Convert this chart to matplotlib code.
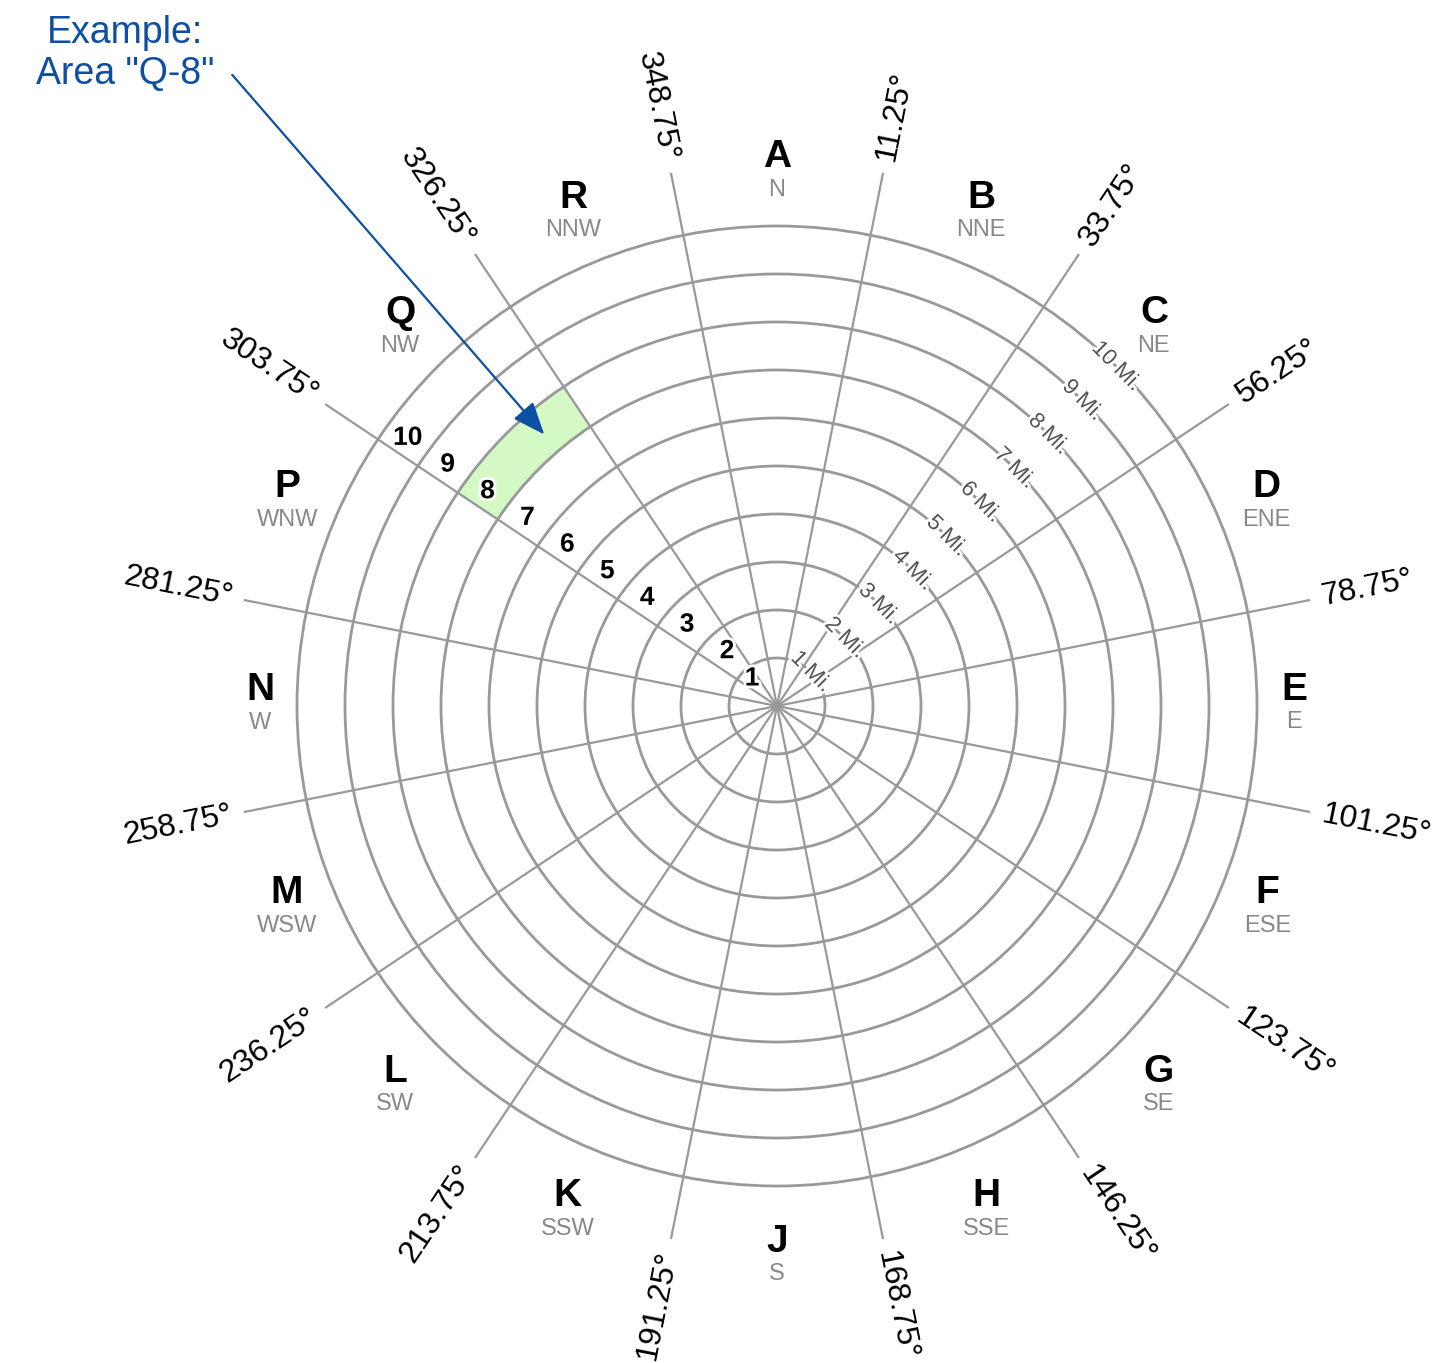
import numpy as np
import matplotlib.pyplot as plt
import matplotlib.patheffects as pe
from matplotlib.patches import Wedge, Circle

plt.rcParams['font.family'] = ['Liberation Sans', 'DejaVu Sans']

# sector letters and compass points, by bearing 0, 22.5, ...
sector_letters = ['A', 'B', 'C', 'D', 'E', 'F', 'G', 'H',
                  'J', 'K', 'L', 'M', 'N', 'P', 'Q', 'R']
compass_points = ['N', 'NNE', 'NE', 'ENE', 'E', 'ESE', 'SE', 'SSE',
                  'S', 'SSW', 'SW', 'WSW', 'W', 'WNW', 'NW', 'NNW']
sector_bearings = np.arange(16) * 22.5
boundary_bearings = 11.25 + np.arange(16) * 22.5
ring_miles = np.arange(1, 11)
zone_numbers = np.arange(1, 11)

# highlighted example area
example_sector = 'Q'
example_zone = 8

GRID = '#999999'
BLUE = '#0d4fa3'
PX = 48.0  # pixels per mile
W, H = 1451, 1363
CX, CY = 777, 706


def unit(b):
    r = np.radians(b)
    return np.sin(r), np.cos(r)


fig = plt.figure(figsize=(W / 100, H / 100), dpi=100)
ax = fig.add_axes([0, 0, 1, 1])
ax.set_xlim(-CX / PX, (W - CX) / PX)
ax.set_ylim(-(H - CY) / PX, CY / PX)
ax.set_aspect('equal')
ax.axis('off')

halo = [pe.withStroke(linewidth=4, foreground='white')]

# highlighted area
k = sector_letters.index(example_sector)
b1 = sector_bearings[k] - 11.25
b2 = sector_bearings[k] + 11.25
ax.add_patch(Wedge((0, 0), example_zone, 90 - b2, 90 - b1, width=1,
                   facecolor='#d4f9c4', edgecolor=GRID, lw=1.2, zorder=0.5))

# rings
for m in ring_miles:
    ax.add_patch(Circle((0, 0), m, fill=False, edgecolor=GRID, lw=2.0, zorder=1))

# spokes and their bearing labels
for b in boundary_bearings:
    ux, uy = unit(b)
    ax.plot([0, 11.3 * ux], [0, 11.3 * uy], color=GRID, lw=1.6, zorder=1)
    rot = 90 - b
    while rot > 90:
        rot -= 180
    while rot <= -90:
        rot += 180
    ha = 'left' if b < 180 else 'right'
    ax.text(11.58 * ux, 11.58 * uy, f'{b:g}°', rotation=rot, rotation_mode='anchor',
            ha=ha, va='center', fontsize=23, color='black', zorder=3)

# sector letters with compass points
for b, let, cp in zip(sector_bearings, sector_letters, compass_points):
    ux, uy = unit(b)
    s = abs(np.sin(np.radians(b)))
    c = np.cos(np.radians(b))
    r = (533 - 16 * s ** 20 + 19 * max(0.0, -c) ** 3) / PX
    x, y = r * ux, r * uy
    ax.text(x, y + 16 / PX, let, ha='center', va='center', fontsize=28,
            fontweight='bold', color='black', zorder=3)
    ax.text(x, y - 16.5 / PX, cp, ha='center', va='center', fontsize=17,
            color='#888888', zorder=3)

# mile labels on rings
ux, uy = unit(45)
for m in ring_miles:
    ax.text(m * ux, m * uy, f'{m} Mi.', rotation=-45, ha='center', va='center',
            fontsize=16, color='#555555', zorder=3, path_effects=halo)

# zone numbers along the 303.75 spoke
b = 303.75
ux, uy = unit(b)
px, py = np.cos(np.radians(b)), -np.sin(np.radians(b))
for n in zone_numbers:
    r = max(n - 0.5, 0.75)
    off = min(0.37, 0.25 * r)
    ax.text(r * ux + off * px, r * uy + off * py, str(n), ha='center', va='center',
            fontsize=19, fontweight='bold', color='black', zorder=3,
            path_effects=halo)

# example callout
tb = sector_bearings[k] + 4.4
tx, ty = unit(tb)
ax.annotate('', xy=(7.45 * tx, 7.45 * ty), xytext=(-11.35, 13.15),
            arrowprops=dict(arrowstyle='-|>,head_length=2.0,head_width=0.8',
                            mutation_scale=10, color=BLUE, lw=1.6,
                            shrinkA=0, shrinkB=0), zorder=4)
ax.text(-13.58, 13.59, 'Example:\nArea "Q-8"', ha='center', va='center',
        fontsize=27, color=BLUE, linespacing=1.2, zorder=4)

fig.savefig('out.png', dpi=100)
